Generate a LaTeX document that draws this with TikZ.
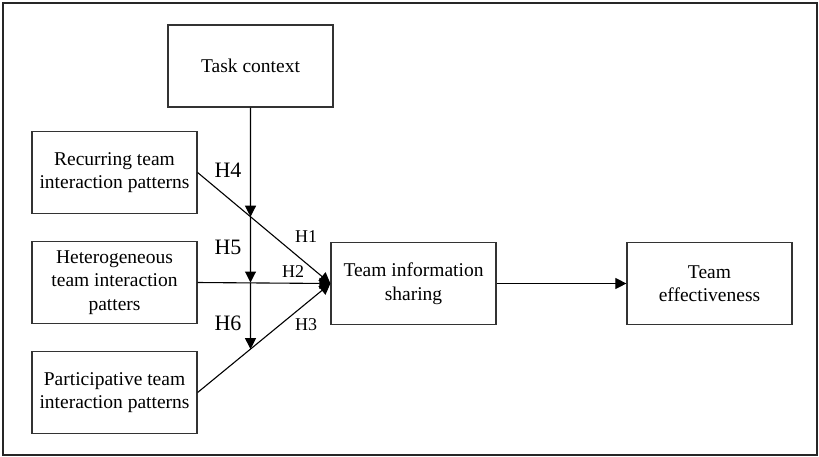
\documentclass[tikz,border=0pt]{standalone}
\usepackage{fontspec}
\setmainfont{Liberation Serif}
\usetikzlibrary{arrows.meta}
\tikzset{
    box/.style={draw=black!80, line width=1.2pt, minimum width=165pt, minimum height=82pt,
        align=center, inner sep=2pt, font=\fontsize{19.5}{23.5}\selectfont},
    arr/.style={line width=1.1pt, -{Triangle[width=11pt,length=11pt]}},
    hbig/.style={font=\fontsize{22}{26}\selectfont},
    hsmall/.style={font=\fontsize{18}{22}\selectfont}
}
\begin{document}
\begin{tikzpicture}[x=1pt, y=-1pt]
    % Step 1: 틀
    \useasboundingbox (0,0) rectangle (819,456);
    \draw[line width=1.2pt, black!85] (3,3) rectangle (817,455);

    % Step 2: 상자
    \node[box] (task) at (250.5,66) {Task context};
    \node[box] (rec) at (114.5,172.5) {Recurring team\\interaction patterns};
    \node[box] (het) at (114.5,282.5) {Heterogeneous\\team interaction\\patters};
    \node[box] (par) at (114.5,392.5) {Participative team\\interaction patterns};
    \node[box] (info) at (413.5,283.5) {Team information\\sharing};
    \node[box] (eff) at (709.5,283.5) {Team\\effectiveness};

    % Step 3: 교점 (세로선과 H1, H2, H3 선)
    \coordinate (m2) at (task.south |- het.east);
    \coordinate (m1) at (intersection of task.south--m2 and rec.east--info.west);
    \coordinate (m3) at (intersection of task.south--m2 and par.east--info.west);

    % Step 4: 화살표 H1, H2, H3
    \draw[arr] (rec.east) -- (info.west);
    \draw[arr] (het.east) -- (info.west);
    \draw[arr] (par.east) -- (info.west);
    \draw[arr] (info.east) -- (eff.west);

    % Step 5: 조절 효과 H4, H5, H6
    \draw[arr] (task.south) -- (m1);
    \draw[arr] (m1) -- (m2);
    \draw[arr] (m2) -- (m3);

    % 라벨
    \foreach \name/\pos in {H4/{228,170}, H5/{228,247}, H6/{228,323}} {
        \node[hbig] (l\name) at (\pos) {\name};
    }
    \foreach \name/\pos in {H1/{306,237}, H2/{293,272}, H3/{306,325}} {
        \node[hsmall] (l\name) at (\pos) {\name};
    }
\end{tikzpicture}
\end{document}
